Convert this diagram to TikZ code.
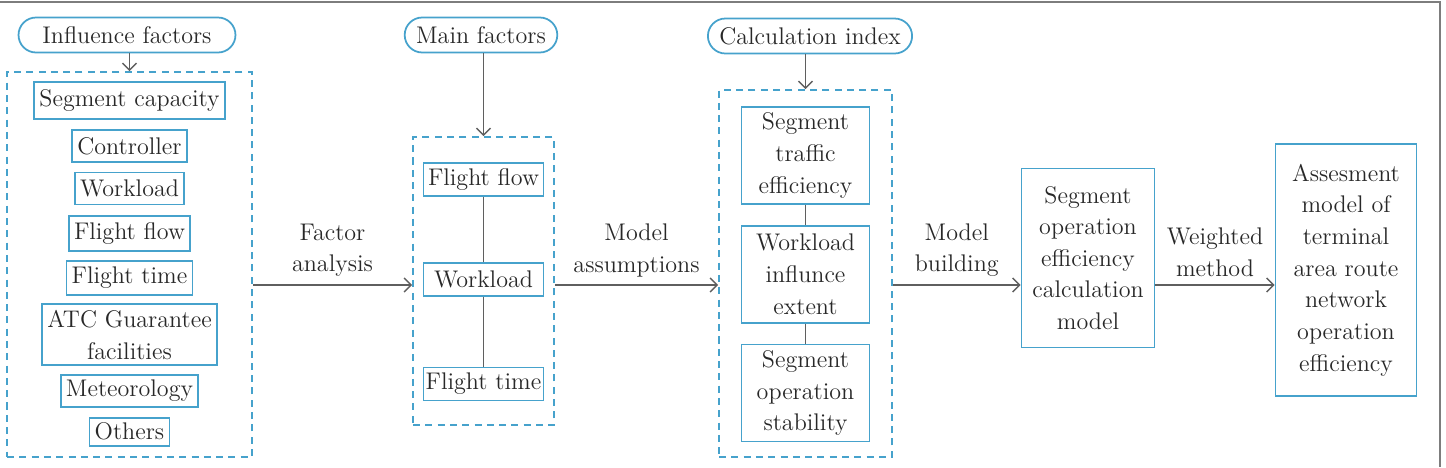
\documentclass[tikz,border=0pt]{standalone}
\usetikzlibrary{arrows.meta,positioning}
\definecolor{boxblue}{RGB}{70,162,204}
\definecolor{txtgray}{RGB}{40,40,40}
\definecolor{arrgray}{RGB}{95,95,95}
\definecolor{framegray}{RGB}{125,125,125}
\tikzset{
  pill/.style={draw=boxblue,line width=1pt,rounded corners=0.35cm,minimum height=0.7cm,inner xsep=6.5pt,inner ysep=1pt,text=txtgray},
  itm/.style={draw=boxblue,line width=1pt,inner xsep=3pt,inner ysep=1pt,minimum height=0.66cm,align=center,text=txtgray},
  lstbox/.style={itm,minimum height=0.64cm},
  midbox/.style={itm,minimum width=2.4cm,inner xsep=1pt},
  tallbox/.style={itm,minimum width=2.56cm,minimum height=1.94cm},
  grp/.style={draw=boxblue,line width=1pt,dash pattern=on 4pt off 3pt},
  arr/.style={-{Straight Barb[length=4pt,width=8pt]},draw=arrgray,line width=0.8pt},
  lnk/.style={draw=arrgray,line width=0.8pt},
  lbl/.style={align=center,text=txtgray},
  frame/.style={draw=framegray,line width=1.2pt}
}
\begin{document}
\begin{tikzpicture}[x=0.02cm,y=-0.02cm,every node/.append style={font=\fontsize{13.7}{18}\selectfont}]
  \useasboundingbox (0,0) rectangle (1446,467);
  \draw[frame] (0,2) -| (1440,467);

  % influence factors
  \node[pill, minimum width=4.34cm] (inf) at (127,35) {Influence factors};
  \node[grp, minimum width=4.9cm, minimum height=7.7cm] (grp1) at (129.5,264.5) {};
  \node[lstbox, minimum height=0.74cm, below=0.2cm of grp1.north] (cap) {Segment capacity};
  \node[lstbox, below=0.18cm of cap] (ctl) {Controller};
  \node[lstbox, below=0.18cm of ctl] (wl1) {Workload};
  \node[lstbox, minimum height=0.7cm, below=0.2cm of wl1] (ff1) {Flight flow};
  \node[lstbox, minimum height=0.68cm, below=0.16cm of ff1] (ft1) {Flight time};
  \node[lstbox, minimum height=1.22cm, below=0.15cm of ft1] (atc) {ATC Guarantee\\facilities};
  \node[lstbox, below=0.16cm of atc] (met) {Meteorology};
  \node[lstbox, minimum height=0.56cm, below=0.18cm of met] (oth) {Others};

  % main factors
  \node[pill] (mainf) at (481,35) {Main factors};
  \node[grp, minimum width=2.82cm, minimum height=5.76cm] (grp2) at (483.5,281) {};
  \node[midbox, below=0.52cm of grp2.north] (ff2) {Flight flow};
  \node[midbox, below=1.3cm of ff2] (wl2) {Workload};
  \node[midbox, below=1.4cm of wl2] (ft2) {Flight time};

  % calculation index
  \node[pill] (calci) at (810,36) {Calculation index};
  \node[grp, minimum width=3.46cm, minimum height=7.34cm] (grp3) at (805.5,273.5) {};
  \node[tallbox, below=0.34cm of grp3.north] (stf) {Segment\\traffic\\efficiency};
  \node[tallbox, below=0.4cm of stf] (wie) {Workload\\influnce\\extent};
  \node[tallbox, below=0.4cm of wie] (sos) {Segment\\operation\\stability};

  % models
  \node[itm, minimum width=2.66cm, minimum height=3.58cm] (calcm) at (1088,258) {Segment\\operation\\efficiency\\calculation\\model};
  \node[itm, minimum width=2.82cm, minimum height=5.04cm] (assess) at (1346,270) {Assesment\\model of\\terminal\\area route\\network\\operation\\efficiency};

  \coordinate (lvl) at (0,285);
  \draw[arr] (grp1.north |- inf.south) -- (grp1.north);
  \draw[arr] (grp2.north |- mainf.south) -- (grp2.north);
  \draw[arr] (grp3.north |- calci.south) -- (grp3.north);
  \draw[lnk] (ff2) -- (wl2) -- (ft2);
  \draw[lnk] (stf) -- (wie) -- (sos);
  \draw[arr] (grp1.east |- lvl) -- node[lbl, above=1pt] {Factor\\analysis} (grp2.west |- lvl);
  \draw[arr] (grp2.east |- lvl) -- node[lbl, above=1pt] {Model\\assumptions} (grp3.west |- lvl);
  \draw[arr] (grp3.east |- lvl) -- node[lbl, above=1pt] {Model\\building} (calcm.west |- lvl);
  \draw[arr] (calcm.east |- lvl) -- node[lbl, above=1pt] {Weighted\\method} (assess.west |- lvl);
\end{tikzpicture}
\end{document}
